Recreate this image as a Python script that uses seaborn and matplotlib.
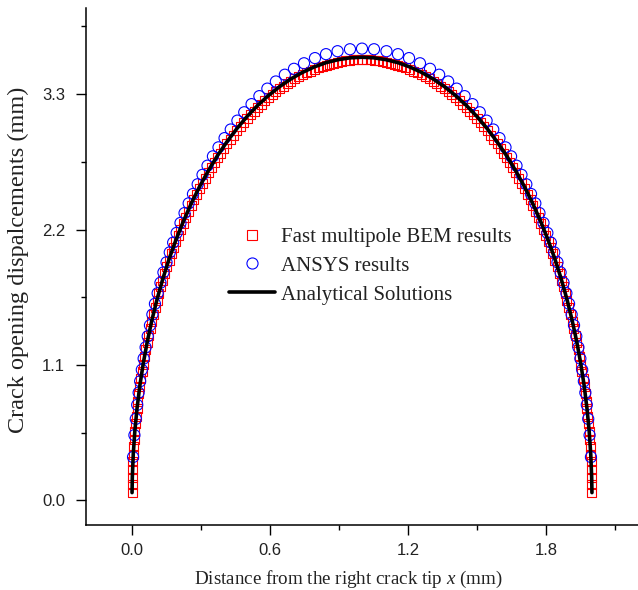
import matplotlib
matplotlib.use("Agg")
import matplotlib.pyplot as plt
from matplotlib.ticker import MultipleLocator
from matplotlib.lines import Line2D
import seaborn as sns
import pandas as pd

# ---------------- data ----------------
bem_x = [
    0.0002, 0.0006, 0.0014, 0.0024, 0.0038, 0.0055, 0.0075, 0.0097, 0.0123, 0.0152,
    0.0184, 0.0219, 0.0256, 0.0297, 0.0341, 0.0387, 0.0437, 0.0489, 0.0545, 0.0603,
    0.0664, 0.0728, 0.0795, 0.0865, 0.0937, 0.1012, 0.1090, 0.1171, 0.1254, 0.1340,
    0.1428, 0.1520, 0.1613, 0.1710, 0.1808, 0.1910, 0.2014, 0.2120, 0.2229, 0.2340,
    0.2453, 0.2569, 0.2686, 0.2807, 0.2929, 0.3053, 0.3180, 0.3309, 0.3439, 0.3572,
    0.3707, 0.3843, 0.3982, 0.4122, 0.4264, 0.4408, 0.4554, 0.4701, 0.4850, 0.5000,
    0.5152, 0.5305, 0.5460, 0.5616, 0.5774, 0.5933, 0.6093, 0.6254, 0.6416, 0.6580,
    0.6744, 0.6910, 0.7076, 0.7244, 0.7412, 0.7581, 0.7750, 0.7921, 0.8092, 0.8264,
    0.8436, 0.8608, 0.8781, 0.8955, 0.9128, 0.9302, 0.9477, 0.9651, 0.9825, 1.0000,
    1.0175, 1.0349, 1.0523, 1.0698, 1.0872, 1.1045, 1.1219, 1.1392, 1.1564, 1.1736,
    1.1908, 1.2079, 1.2250, 1.2419, 1.2588, 1.2756, 1.2924, 1.3090, 1.3256, 1.3420,
    1.3584, 1.3746, 1.3907, 1.4067, 1.4226, 1.4384, 1.4540, 1.4695, 1.4848, 1.5000,
    1.5150, 1.5299, 1.5446, 1.5592, 1.5736, 1.5878, 1.6018, 1.6157, 1.6293, 1.6428,
    1.6561, 1.6691, 1.6820, 1.6947, 1.7071, 1.7193, 1.7314, 1.7431, 1.7547, 1.7660,
    1.7771, 1.7880, 1.7986, 1.8090, 1.8192, 1.8290, 1.8387, 1.8480, 1.8572, 1.8660,
    1.8746, 1.8829, 1.8910, 1.8988, 1.9063, 1.9135, 1.9205, 1.9272, 1.9336, 1.9397,
    1.9455, 1.9511, 1.9563, 1.9613, 1.9659, 1.9703, 1.9744, 1.9781, 1.9816, 1.9848,
    1.9877, 1.9903, 1.9925, 1.9945, 1.9962, 1.9976, 1.9986, 1.9994, 1.9998,
]
bem_y = [
    0.063, 0.125, 0.187, 0.250, 0.312, 0.374, 0.436, 0.498, 0.560, 0.622,
    0.683, 0.744, 0.806, 0.866, 0.927, 0.987, 1.047, 1.106, 1.166, 1.224,
    1.283, 1.341, 1.399, 1.456, 1.513, 1.570, 1.625, 1.681, 1.736, 1.790,
    1.844, 1.897, 1.950, 2.002, 2.054, 2.104, 2.154, 2.204, 2.253, 2.301,
    2.349, 2.395, 2.442, 2.487, 2.531, 2.575, 2.618, 2.660, 2.702, 2.742,
    2.782, 2.821, 2.859, 2.896, 2.933, 2.968, 3.003, 3.036, 3.069, 3.100,
    3.131, 3.161, 3.190, 3.218, 3.245, 3.270, 3.295, 3.319, 3.342, 3.364,
    3.385, 3.405, 3.424, 3.442, 3.458, 3.474, 3.488, 3.502, 3.514, 3.526,
    3.536, 3.545, 3.553, 3.560, 3.566, 3.571, 3.575, 3.578, 3.579, 3.580,
    3.579, 3.578, 3.575, 3.571, 3.566, 3.560, 3.553, 3.545, 3.536, 3.526,
    3.514, 3.502, 3.488, 3.474, 3.458, 3.442, 3.424, 3.405, 3.385, 3.364,
    3.342, 3.319, 3.295, 3.270, 3.245, 3.218, 3.190, 3.161, 3.131, 3.100,
    3.069, 3.036, 3.003, 2.968, 2.933, 2.896, 2.859, 2.821, 2.782, 2.742,
    2.702, 2.660, 2.618, 2.575, 2.531, 2.487, 2.442, 2.395, 2.349, 2.301,
    2.253, 2.204, 2.154, 2.104, 2.054, 2.002, 1.950, 1.897, 1.844, 1.790,
    1.736, 1.681, 1.625, 1.570, 1.513, 1.456, 1.399, 1.341, 1.283, 1.224,
    1.166, 1.106, 1.047, 0.987, 0.927, 0.866, 0.806, 0.744, 0.683, 0.622,
    0.560, 0.498, 0.436, 0.374, 0.312, 0.250, 0.187, 0.125, 0.063,
]

ansys_x = [
    0.0046, 0.0105, 0.0164, 0.0226, 0.0289, 0.0354, 0.0427, 0.0506, 0.0591, 0.0683,
    0.0781, 0.0886, 0.0997, 0.1114, 0.1237, 0.1366, 0.1501, 0.1642, 0.1789, 0.1941,
    0.2109, 0.2284, 0.2464, 0.2651, 0.2855, 0.3066, 0.3283, 0.3519, 0.3761, 0.4024,
    0.4293, 0.4583, 0.4880, 0.5198, 0.5538, 0.5885, 0.6254, 0.6645, 0.7043, 0.7479,
    0.7955, 0.8436, 0.8937, 0.9477, 1.0000,
    1.0523, 1.1063, 1.1564, 1.2045, 1.2521, 1.2957, 1.3355, 1.3746, 1.4115, 1.4462,
    1.4802, 1.5120, 1.5417, 1.5707, 1.5976, 1.6239, 1.6481, 1.6717, 1.6934, 1.7145,
    1.7349, 1.7536, 1.7716, 1.7891, 1.8059, 1.8211, 1.8358, 1.8499, 1.8634, 1.8763,
    1.8886, 1.9003, 1.9114, 1.9219, 1.9317, 1.9409, 1.9494, 1.9573, 1.9646, 1.9711,
    1.9774, 1.9836, 1.9895, 1.9954,
]
ansys_y = [
    0.352, 0.530, 0.662, 0.776, 0.875, 0.968, 1.061, 1.152, 1.243, 1.333,
    1.422, 1.510, 1.597, 1.683, 1.768, 1.852, 1.934, 2.015, 2.094, 2.173,
    2.254, 2.334, 2.413, 2.489, 2.568, 2.645, 2.719, 2.795, 2.868, 2.943,
    3.013, 3.085, 3.153, 3.219, 3.284, 3.345, 3.403, 3.458, 3.506, 3.551,
    3.593, 3.625, 3.649, 3.665, 3.670,
    3.665, 3.649, 3.625, 3.593, 3.551, 3.506, 3.458, 3.403, 3.345, 3.284,
    3.219, 3.153, 3.085, 3.013, 2.943, 2.868, 2.795, 2.719, 2.645, 2.568,
    2.489, 2.413, 2.334, 2.254, 2.173, 2.094, 2.015, 1.934, 1.852, 1.768,
    1.683, 1.597, 1.510, 1.422, 1.333, 1.243, 1.152, 1.061, 0.968, 0.875,
    0.776, 0.662, 0.530, 0.352,
]

exact_x = [
    0.0002, 0.0014, 0.0055, 0.0123, 0.0219, 0.0341, 0.0489, 0.0664, 0.0865, 0.1090,
    0.1340, 0.1613, 0.1910, 0.2229, 0.2569, 0.2929, 0.3309, 0.3707, 0.4122, 0.4554,
    0.5000, 0.5460, 0.5933, 0.6416, 0.6910, 0.7412, 0.7921, 0.8436, 0.8955, 0.9477,
    1.0000, 1.0523, 1.1045, 1.1564, 1.2079, 1.2588, 1.3090, 1.3584, 1.4067, 1.4540,
    1.5000, 1.5446, 1.5878, 1.6293, 1.6691, 1.7071, 1.7431, 1.7771, 1.8090, 1.8387,
    1.8660, 1.8910, 1.9135, 1.9336, 1.9511, 1.9659, 1.9781, 1.9877, 1.9945, 1.9986,
    1.9998,
]
exact_y = [
    0.063, 0.188, 0.376, 0.563, 0.748, 0.932, 1.112, 1.290, 1.464, 1.634,
    1.800, 1.961, 2.116, 2.265, 2.409, 2.546, 2.675, 2.798, 2.912, 3.019,
    3.118, 3.208, 3.289, 3.361, 3.424, 3.477, 3.521, 3.556, 3.580, 3.595,
    3.600, 3.595, 3.580, 3.556, 3.521, 3.477, 3.424, 3.361, 3.289, 3.208,
    3.118, 3.019, 2.912, 2.798, 2.675, 2.546, 2.409, 2.265, 2.116, 1.961,
    1.800, 1.634, 1.464, 1.290, 1.112, 0.932, 0.748, 0.563, 0.376, 0.188,
    0.063,
]

labels = ["Fast multipole BEM results", "ANSYS results", "Analytical Solutions"]
x_ticks = [0.0, 0.6, 1.2, 1.8]
y_ticks = [0.0, 1.1, 2.2, 3.3]

# ---------------- style ----------------
sns.set_style("ticks")
plt.rcParams["font.family"] = ["Liberation Sans", "DejaVu Sans"]
plt.rcParams["mathtext.fontset"] = "custom"
plt.rcParams["mathtext.rm"] = "Liberation Serif"
plt.rcParams["mathtext.it"] = "Liberation Serif:italic"
SERIF = ["Liberation Serif", "DejaVu Serif"]

fig = plt.figure(figsize=(6.38, 5.90), dpi=100)
ax = fig.add_axes([86 / 638, 65 / 590, 552 / 638, 517 / 590])

bem = pd.DataFrame({"x": bem_x, "y": bem_y})
ans = pd.DataFrame({"x": ansys_x, "y": ansys_y})
ex = pd.DataFrame({"x": exact_x, "y": exact_y})

sns.scatterplot(data=bem, x="x", y="y", ax=ax, marker="s", s=42,
                facecolor="none", edgecolor="#ff0000", linewidth=0.8,
                zorder=2, legend=False)
sns.scatterplot(data=ans, x="x", y="y", ax=ax, marker="o", s=64,
                facecolor="none", edgecolor="#0000ff", linewidth=0.8,
                zorder=3, legend=False)
sns.lineplot(data=ex, x="x", y="y", ax=ax, color="black", linewidth=2.6,
             sort=False, estimator=None, zorder=4, legend=False)

ax.set_xlim(-0.2, 2.2)
ax.set_ylim(-0.2, 4.0)
ax.set_xticks(x_ticks)
ax.set_yticks(y_ticks)
ax.set_xticklabels([f"{v:.1f}" for v in x_ticks])
ax.set_yticklabels([f"{v:.1f}" for v in y_ticks])
ax.xaxis.set_minor_locator(MultipleLocator(0.3))
ax.yaxis.set_minor_locator(MultipleLocator(0.55))
ax.tick_params(axis="both", which="major", direction="out", length=7,
               width=1.0, labelsize=12, color="black", labelcolor="#222222")
ax.tick_params(axis="x", which="major", pad=6)
ax.tick_params(axis="y", which="major", pad=8)
ax.tick_params(axis="both", which="minor", direction="out", length=3.5,
               width=1.0, color="black")

for s in ["top", "right"]:
    ax.spines[s].set_visible(False)
for s in ["left", "bottom"]:
    ax.spines[s].set_linewidth(1.1)
    ax.spines[s].set_color("black")

ax.set_xlabel("Distance from the right crack tip $\\mathit{x}$ (mm)",
              family=SERIF, fontsize=13.7, color="#222222")
ax.set_ylabel("Crack opening dispalcements (mm)", family=SERIF,
              fontsize=17.5, color="#222222")
ax.xaxis.set_label_coords(0.476, -0.085)
ax.yaxis.set_label_coords(-0.103, 0.513)

handles = [
    Line2D([], [], linestyle="none", marker="s", markersize=6.5,
           markerfacecolor="none", markeredgecolor="#ff0000", markeredgewidth=0.8),
    Line2D([], [], linestyle="none", marker="o", markersize=8,
           markerfacecolor="none", markeredgecolor="#0000ff", markeredgewidth=0.8),
    Line2D([], [], color="black", linewidth=2.6),
]
leg = ax.legend(handles, labels, loc="center", bbox_to_anchor=(0.515, 0.501),
                frameon=False, prop={"family": SERIF, "size": 15},
                handlelength=2.2, handletextpad=0.3, labelspacing=0.45,
                borderaxespad=0)
for t in leg.get_texts():
    t.set_color("#222222")

fig.savefig("out.png", dpi=100)
